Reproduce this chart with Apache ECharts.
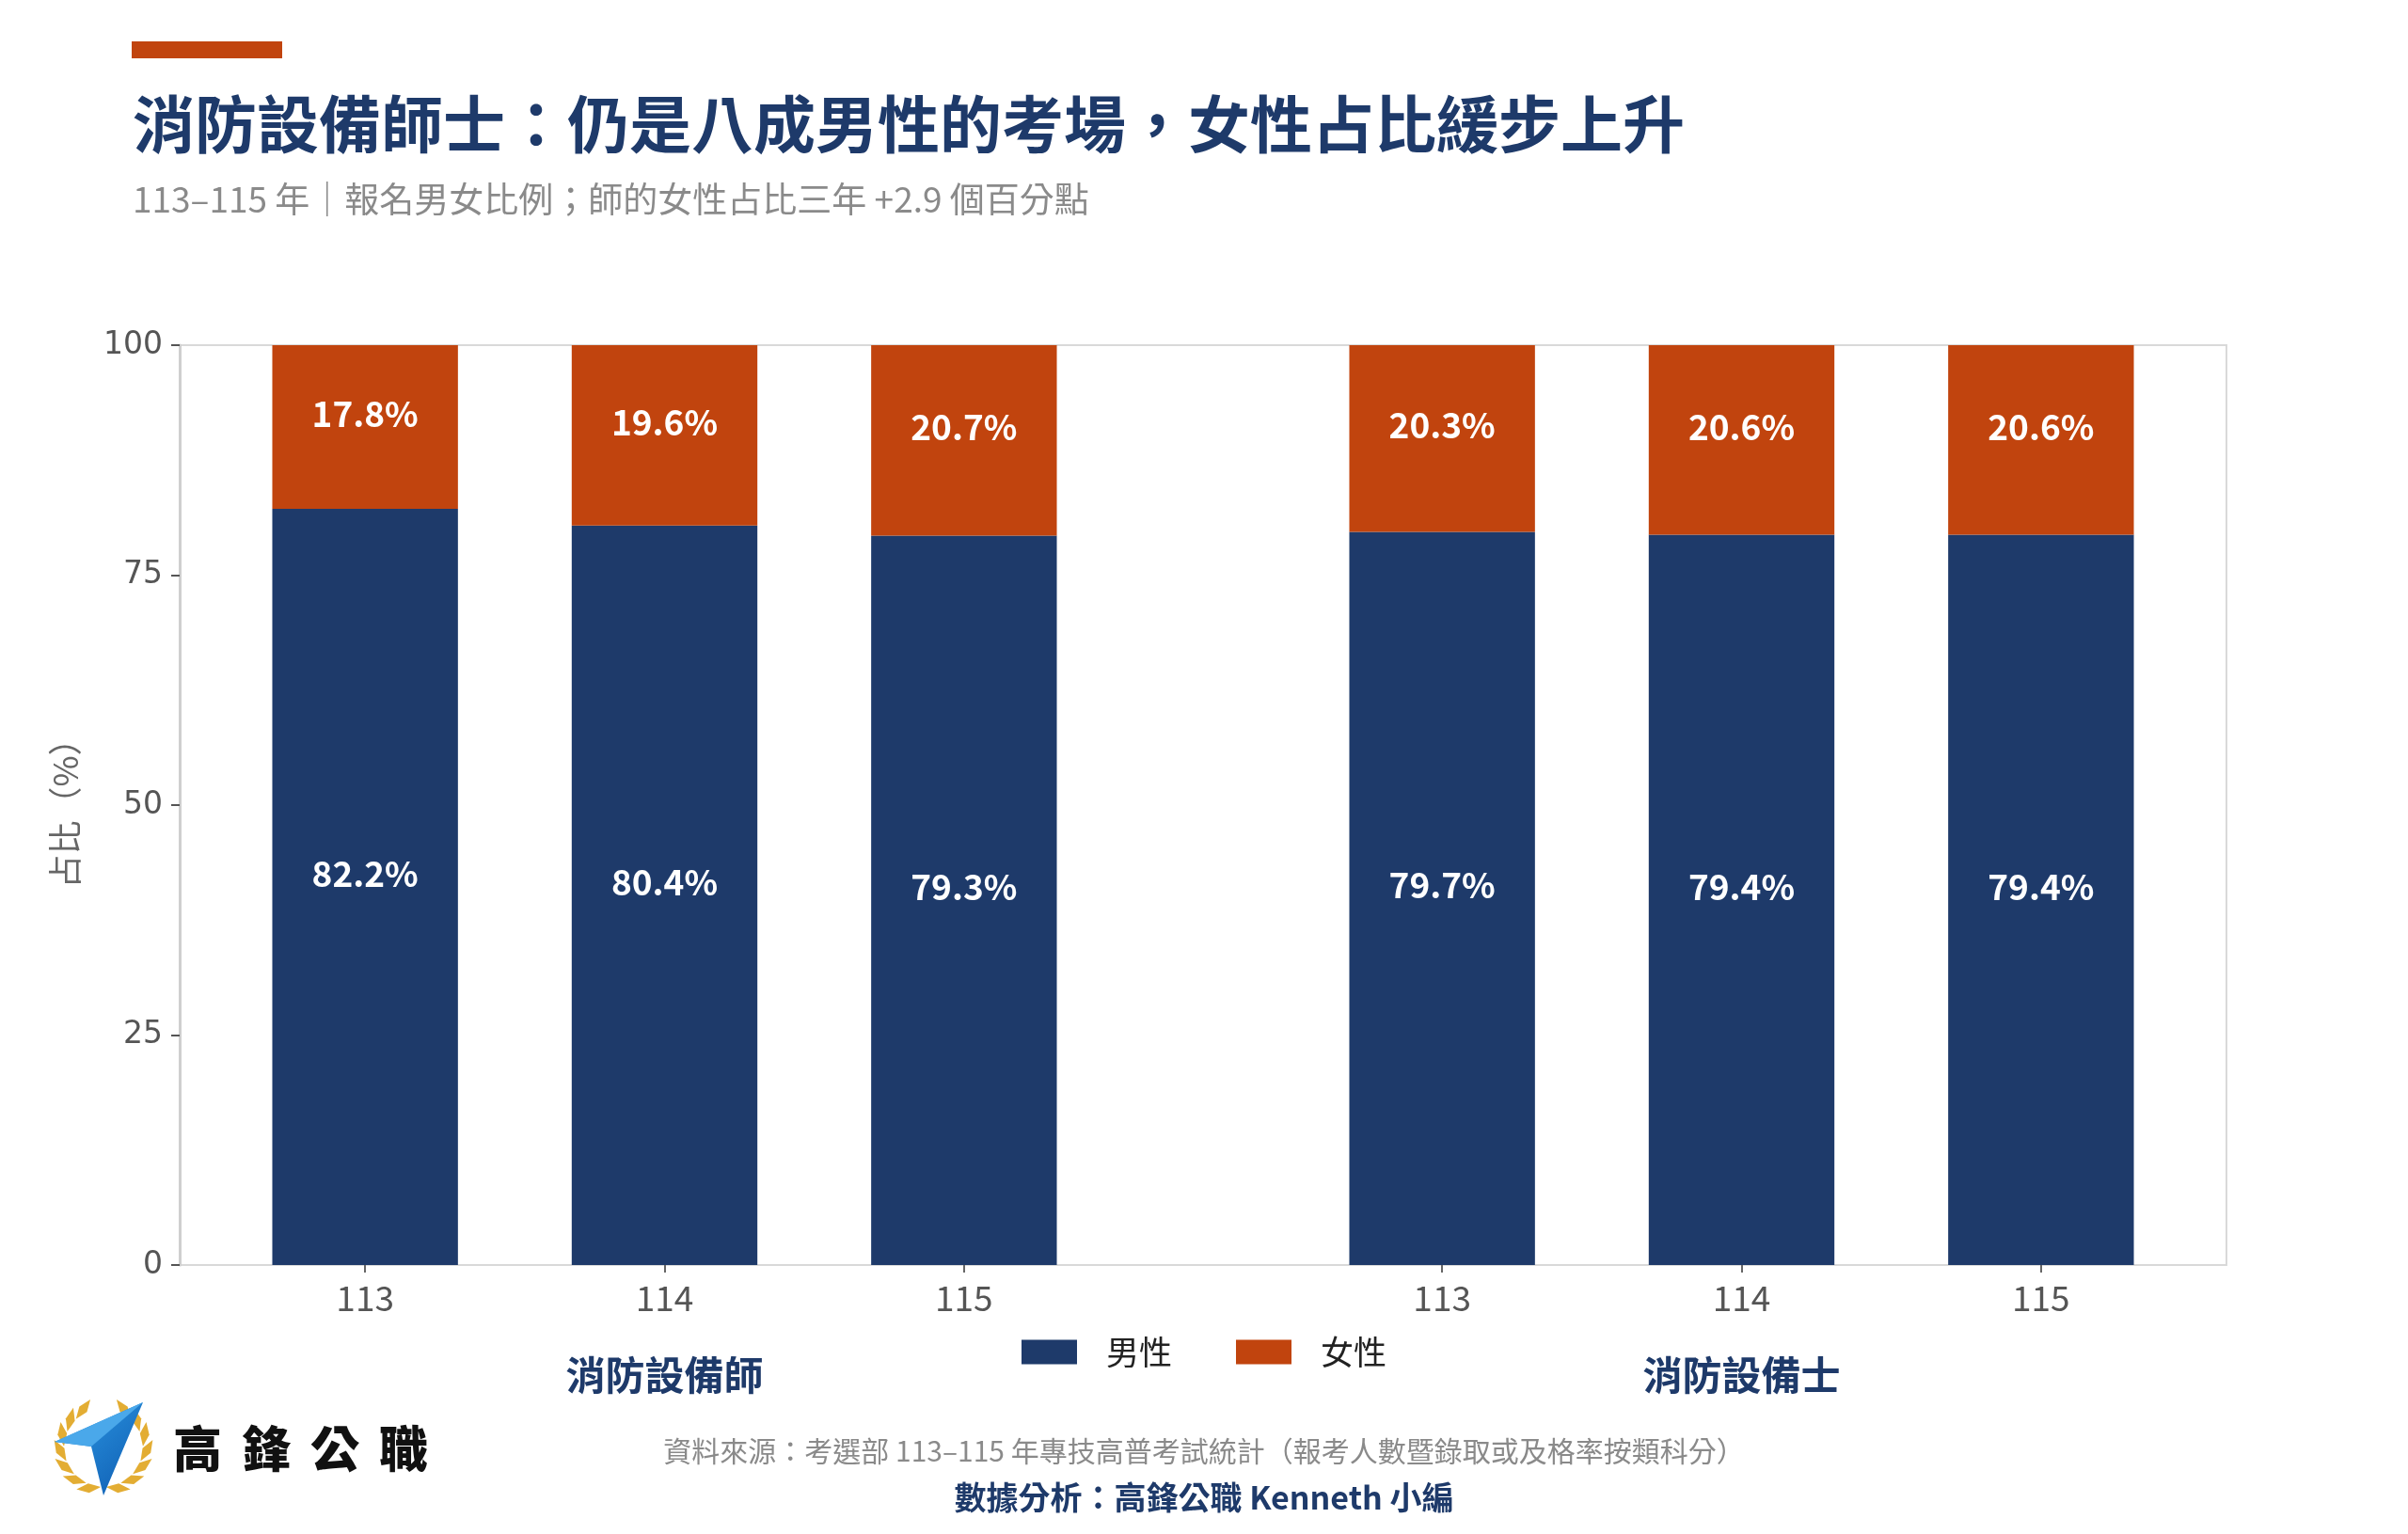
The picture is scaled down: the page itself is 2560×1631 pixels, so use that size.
<!DOCTYPE html>
<html><head><meta charset="utf-8">
<script src="https://cdn.jsdelivr.net/npm/echarts@6/dist/echarts.min.js"></script>
<style>html,body{margin:0;padding:0;background:#fff}#c{width:2560px;height:1631px}</style>
</head><body><div id="c"></div>
<script>
const years = ['113', '114', '115'];
const groupNames = ['消防設備師', '消防設備士'];
const seriesNames = ['男性', '女性'];
const maleShi = [82.2, 80.4, 79.3];
const femaleShi = [17.8, 19.6, 20.7];
const maleShi2 = [79.7, 79.4, 79.4];
const femaleShi2 = [20.3, 20.6, 20.6];
const yTicks = { min: 0, max: 100, interval: 25 };

const NAVY = '#1e3a6a', ORANGE = '#c1440e';
const CJK = '"Noto Sans CJK TC", "Noto Sans", sans-serif';
const chart = echarts.init(document.getElementById('c'), null, { renderer: 'canvas' });

const gTop = 367, gBottom = 286;
const labelCfg = {
  show: true, position: 'inside', offset: [0, -14],
  color: '#fff', fontFamily: CJK, fontWeight: 'bold', fontSize: 37,
  formatter: p => p.value.toFixed(1) + '%'
};
function catAxis(gi, name) {
  return {
    type: 'category', gridIndex: gi, data: years,
    axisLine: { show: false },
    axisTick: { show: true, alignWithLabel: true, length: 8, lineStyle: { color: '#666', width: 2 } },
    axisLabel: { color: '#555', fontFamily: CJK, fontSize: 37, margin: 16 },
    name: name, nameLocation: 'middle', nameGap: 96,
    nameTextStyle: { color: NAVY, fontFamily: CJK, fontWeight: 'bold', fontSize: 42 }
  };
}
function hidY(gi) {
  return { type: 'value', gridIndex: gi, min: yTicks.min, max: yTicks.max, show: false };
}
function bar(name, data, gi, stack, color) {
  return {
    name: name, type: 'bar', stack: stack, xAxisIndex: gi, yAxisIndex: gi,
    data: data, barCategoryGap: '38%', itemStyle: { color: color }, label: labelCfg
  };
}

// logo: laurel wreath + check mark (decoration)
const logoGraphics = [];
const cx = 110, cy = 1539, R = 46;
const leafAngles = [[250, 228, 206, 184, 162, 140, 118], [290, 312, 334, 356, 378, 400, 422]];
leafAngles.forEach((arr, s) => arr.forEach(deg => {
  const a = deg * Math.PI / 180;
  const px = cx + R * Math.cos(a), py = cy - R * Math.sin(a);
  let rot = Math.atan2(-Math.cos(a), -Math.sin(a)) + (s === 0 ? -0.45 : 0.45);
  const L = 13, W = 5;
  const pts = [[-L, 0], [0, -W], [L, 0], [0, W]].map(([x, y]) =>
    [px + x * Math.cos(rot) - y * Math.sin(rot), py + x * Math.sin(rot) + y * Math.cos(rot)]);
  logoGraphics.push({ type: 'polygon', shape: { points: pts }, style: { fill: '#e3ad33' } });
}));
logoGraphics.push({ type: 'polygon', shape: { points: [[58, 1533], [152, 1491], [110, 1590], [97, 1538]] },
  style: { fill: new echarts.graphic.LinearGradient(0, 0, 1, 1, [{ offset: 0, color: '#2f9be6' }, { offset: 1, color: '#0d5bb0' }]) } });
logoGraphics.push({ type: 'polygon', shape: { points: [[58, 1533], [152, 1491], [97, 1538]] },
  style: { fill: '#4aa8ea' } });
const brand = ['高', '鋒', '公', '職'];
brand.forEach((ch, i) => logoGraphics.push({
  type: 'text', x: 184 + i * 73, y: 1540,
  style: { text: ch, fill: '#111', font: '900 52px ' + CJK, verticalAlign: 'middle' }
}));

chart.setOption({
  animation: false,
  backgroundColor: '#fff',
  legend: {
    data: seriesNames, left: 'center', top: 1415, itemWidth: 59, itemHeight: 26, itemGap: 68, icon: 'rect',
    textStyle: { color: '#222', fontFamily: CJK, fontSize: 35, padding: [0, 0, 0, 26] }
  },
  grid: [
    { left: 191, right: 193, top: gTop, bottom: gBottom, show: true, borderColor: '#d9d9d9', borderWidth: 2 },
    { left: 229, width: 955, top: gTop, bottom: gBottom },
    { left: 1374, width: 955, top: gTop, bottom: gBottom }
  ],
  xAxis: [
    { type: 'value', gridIndex: 0, show: false },
    catAxis(1, groupNames[0]),
    catAxis(2, groupNames[1])
  ],
  yAxis: [
    {
      type: 'value', gridIndex: 0, min: yTicks.min, max: yTicks.max, interval: yTicks.interval,
      splitLine: { show: false },
      axisLine: { show: true, lineStyle: { color: '#cfcfcf', width: 3 } },
      axisTick: { show: true, length: 9, lineStyle: { color: '#555', width: 2 } },
      axisLabel: { color: '#555', fontFamily: '"DejaVu Sans", sans-serif', fontSize: 33, margin: 18 },
      name: '占比（%）', nameLocation: 'middle', nameGap: 104, nameRotate: 90,
      nameTextStyle: { color: '#666', fontFamily: CJK, fontSize: 36 }
    },
    hidY(1), hidY(2)
  ],
  series: [
    bar(seriesNames[0], maleShi, 1, 'a', NAVY),
    bar(seriesNames[1], femaleShi, 1, 'a', ORANGE),
    bar(seriesNames[0], maleShi2, 2, 'b', NAVY),
    bar(seriesNames[1], femaleShi2, 2, 'b', ORANGE)
  ],
  graphic: [
    { type: 'rect', shape: { x: 140, y: 44, width: 160, height: 18 }, style: { fill: ORANGE } },
    { type: 'text', x: 141, y: 132, style: { text: '消防設備師士：仍是八成男性的考場，女性占比緩步上升', fill: NAVY,
      font: 'bold 66px ' + CJK, verticalAlign: 'middle' } },
    { type: 'text', x: 141, y: 212, style: { text: '113–115 年｜報名男女比例；師的女性占比三年 +2.9 個百分點', fill: '#8a8a8a',
      font: '37px ' + CJK, verticalAlign: 'middle' } },
    { type: 'text', x: 1280, y: 1543, style: { text: '資料來源：考選部 113–115 年專技高普考試統計（報考人數暨錄取或及格率按類科分）', fill: '#8a8a8a',
      font: '30px ' + CJK, align: 'center', verticalAlign: 'middle' } },
    { type: 'text', x: 1280, y: 1592, style: { text: '數據分析：高鋒公職 Kenneth 小編', fill: NAVY,
      font: 'bold 34px ' + CJK, align: 'center', verticalAlign: 'middle' } },
    ...logoGraphics
  ]
});
</script></body></html>
